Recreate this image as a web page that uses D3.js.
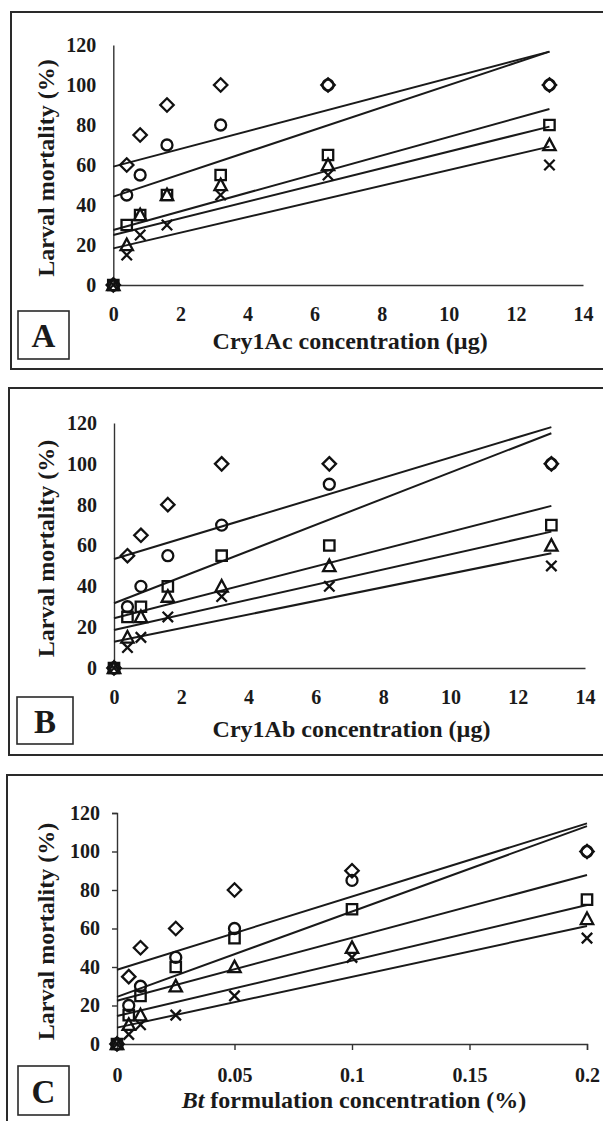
<!DOCTYPE html>
<html>
<head>
<meta charset="utf-8">
<script src="https://cdn.jsdelivr.net/npm/d3@7"></script>
<style>
  body { margin: 0; background: #fff; }
  svg { display: block; }
  text { font-family: "Liberation Serif", "Times New Roman", serif; font-weight: bold; fill: #1a1a1a; }
</style>
</head>
<body>
<svg id="chart" width="603" height="1121"></svg>
<script>
// doses (x) for each panel
var doseA = [0, 0.4, 0.8, 1.6, 3.2, 6.4, 13];
var doseB = [0, 0.4, 0.8, 1.6, 3.2, 6.4, 13];
var doseC = [0, 0.005, 0.01, 0.025, 0.05, 0.1, 0.2];

// mortality (%) per series: diamond, circle, square, triangle, cross
var mortalityA = [
  [0, 60, 75, 90, 100, 100, 100],
  [0, 45, 55, 70, 80, 100, 100],
  [0, 30, 35, 45, 55, 65, 80],
  [0, 20, 35, 45, 50, 60, 70],
  [0, 15, 25, 30, 45, 55, 60]
];
var mortalityB = [
  [0, 55, 65, 80, 100, 100, 100],
  [0, 30, 40, 55, 70, 90, 100],
  [0, 25, 30, 40, 55, 60, 70],
  [0, 15, 25, 35, 40, 50, 60],
  [0, 10, 15, 25, 35, 40, 50]
];
var mortalityC = [
  [0, 35, 50, 60, 80, 90, 100],
  [0, 20, 30, 45, 60, 85, 100],
  [0, 15, 25, 40, 55, 70, 75],
  [0, 10, 15, 30, 40, 50, 65],
  [0, 5, 10, 15, 25, 45, 55]
];

// trend lines: value at x = 0 and at the highest dose
var trendA = [[59.2, 116.7], [44.2, 116.7], [27.5, 88], [25, 79.2], [18.3, 69.2]];
var trendB = [[53.4, 118], [31.7, 115], [24.4, 79.4], [18.6, 66.8], [12.9, 56.2]];
var trendC = [[38.6, 114.6], [24.5, 113.2], [22.5, 87.8], [14.5, 72.2], [8.5, 61.3]];

var seriesShapes = ["diamond", "circle", "square", "triangle", "cross"];
var yTicks = [0, 20, 40, 60, 80, 100, 120];
var xTicksAB = [0, 2, 4, 6, 8, 10, 12, 14];
var xTicksC = [0, 0.05, 0.1, 0.15, 0.2];
var panelLetters = ["A", "B", "C"];

var svg = d3.select("#chart");

var panels = [
  { letter: panelLetters[0], dose: doseA, values: mortalityA, trend: trendA,
    xMax: 14, xTicks: xTicksAB, ticks: false,
    x0: 113.3, x1: 583, y0: 285, y1: 45,
    frame: { x: 11, y: 12, h: 357 }, box: { x: 18, y: 311, w: 51, h: 48 },
    titleY: 349, title: "Cry1Ac concentration (\u00b5g)" },
  { letter: panelLetters[1], dose: doseB, values: mortalityB, trend: trendB,
    xMax: 14, xTicks: xTicksAB, ticks: false,
    x0: 114, x1: 585, y0: 668, y1: 423,
    frame: { x: 9, y: 388, h: 367 }, box: { x: 17, y: 697, w: 56, h: 47 },
    titleY: 737, title: "Cry1Ab concentration (\u00b5g)" },
  { letter: panelLetters[2], dose: doseC, values: mortalityC, trend: trendC,
    xMax: 0.2, xTicks: xTicksC, ticks: true,
    x0: 117, x1: 587, y0: 1044, y1: 813,
    frame: { x: 7, y: 775, h: 400 }, box: { x: 18, y: 1066, w: 51, h: 49 },
    titleY: 1108, title: null }
];

var shapePath = function shapePath(shape) {
  switch (shape) {
    case "diamond": return "M0,-6.7L6.7,0L0,6.7L-6.7,0Z";
    case "circle": return "M5.5,0A5.5,5.5 0 1,1 -5.5,0A5.5,5.5 0 1,1 5.5,0Z";
    case "square": return "M-5.2,-5.2H5.2V5.2H-5.2Z";
    case "triangle": return "M0,-6.4L6.2,5.2H-6.2Z";
    default: return "M-5.2,-5.2L5.2,5.2M5.2,-5.2L-5.2,5.2";
  }
};

panels.forEach(function(p) {
  var x = d3.scaleLinear().domain([0, p.xMax]).range([p.x0, p.x1]);
  var y = d3.scaleLinear().domain([0, 120]).range([p.y0, p.y1]);
  var g = svg.append("g");

  // outer frame (runs off the right edge)
  g.append("rect")
    .attr("x", p.frame.x).attr("y", p.frame.y)
    .attr("width", 640).attr("height", p.frame.h)
    .attr("fill", "none").attr("stroke", "#2a2a2a").attr("stroke-width", 2);

  // letter box
  g.append("rect")
    .attr("x", p.box.x).attr("y", p.box.y)
    .attr("width", p.box.w).attr("height", p.box.h)
    .attr("fill", "none").attr("stroke", "#2a2a2a").attr("stroke-width", 1.6);
  g.append("text")
    .attr("x", p.box.x + p.box.w / 2).attr("y", p.box.y + p.box.h / 2 + 12)
    .attr("text-anchor", "middle").style("font-size", "33px")
    .text(p.letter);

  // axes
  var yAxis = d3.axisLeft(y).tickValues(yTicks)
    .tickSize(p.ticks ? 5 : 0).tickPadding(p.ticks ? 12 : 17);
  var xAxis = d3.axisBottom(x).tickValues(p.xTicks)
    .tickSize(p.ticks ? 6 : 0).tickPadding(p.ticks ? 18 : 22)
    .tickFormat(function(d) { return d; });

  var ya = g.append("g").attr("transform", "translate(" + p.x0 + ",0)").call(yAxis);
  var xa = g.append("g").attr("transform", "translate(0," + p.y0 + ")").call(xAxis);
  [ya, xa].forEach(function(a) {
    a.select(".domain").attr("stroke", "#333").attr("stroke-width", 1.4);
    a.selectAll(".tick line").attr("stroke", "#333").attr("stroke-width", 1.4);
    a.selectAll(".tick text")
      .style("font-family", "'Liberation Serif', 'Times New Roman', serif")
      .style("font-weight", "bold").style("font-size", "20px").attr("fill", "#1a1a1a");
  });

  // axis titles
  g.append("text")
    .attr("transform", "translate(46," + ((p.y0 + p.y1) / 2 + 3) + ") rotate(-90)")
    .attr("text-anchor", "middle").attr("dominant-baseline", "central")
    .style("font-size", "24px").text("Larval mortality (%)");

  var xt = g.append("text")
    .attr("x", (p.x0 + p.x1) / 2 + 2).attr("y", p.titleY)
    .attr("text-anchor", "middle").style("font-size", "24px");
  if (p.title) {
    xt.text(p.title);
  } else {
    xt.append("tspan").style("font-style", "italic").text("Bt");
    xt.append("tspan").text(" formulation concentration (%)");
  }

  // trend lines
  var lastDose = p.dose[p.dose.length - 1];
  g.selectAll(".trend").data(p.trend).enter().append("line")
    .attr("x1", x(0)).attr("y1", function(d) { return y(d[0]); })
    .attr("x2", x(lastDose)).attr("y2", function(d) { return y(d[1]); })
    .attr("stroke", "#1a1a1a").attr("stroke-width", 2);

  // markers
  p.values.forEach(function(vals, si) {
    g.selectAll(null).data(vals).enter().append("path")
      .attr("transform", function(d, i) {
        return "translate(" + x(p.dose[i]) + "," + y(d) + ")";
      })
      .attr("d", shapePath(seriesShapes[si]))
      .attr("fill", "none").attr("stroke", "#111").attr("stroke-width", 2.3);
  });
});
</script>
</body>
</html>
